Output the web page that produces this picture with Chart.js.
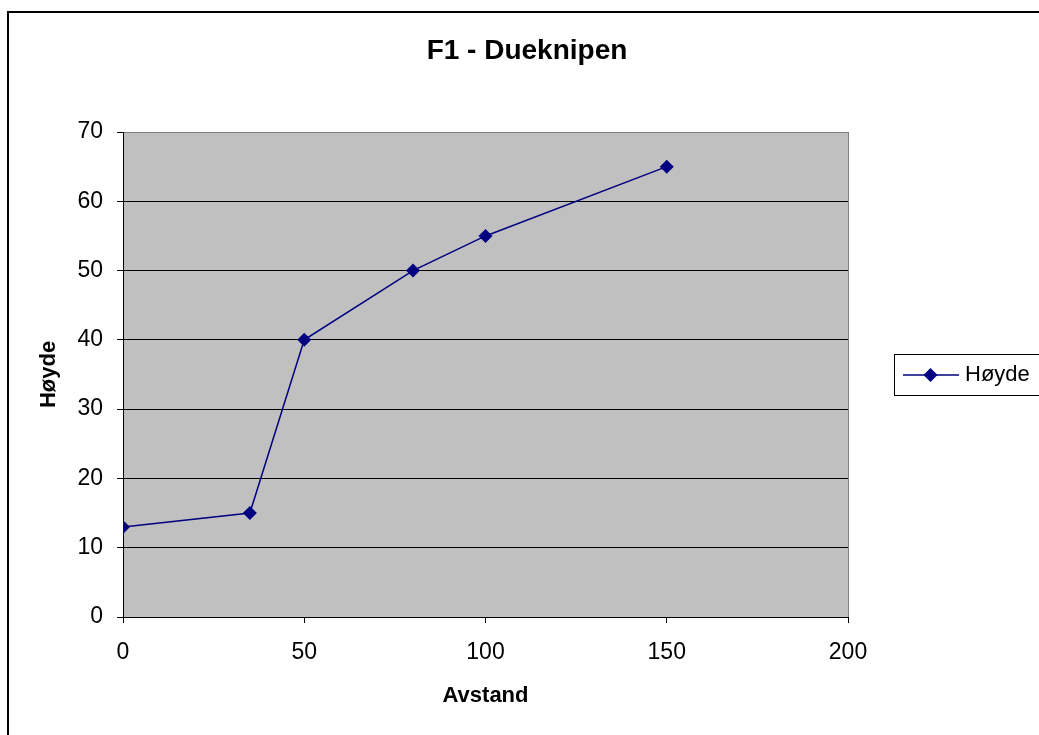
<!DOCTYPE html>
<html><head><meta charset="utf-8">
<script src="https://cdn.jsdelivr.net/npm/chart.js@4/dist/chart.umd.min.js"></script>
<style>html,body{margin:0;padding:0;background:#fff;}#wrap{width:1039px;height:735px;position:relative;}</style>
</head><body><div id="wrap"><canvas id="c" width="1039" height="735"></canvas></div>
<script>
const chartTitle = "F1 - Dueknipen";
const seriesName = "Høyde";
const xTitle = "Avstand";
const yTitle = "Høyde";
const avstand = [0, 35, 50, 80, 100, 150];
const hoyde = [13, 15, 40, 50, 55, 65];
const xTicks = [0, 50, 100, 150, 200];
const yTicks = [0, 10, 20, 30, 40, 50, 60, 70];

const FONT = "'Liberation Sans', Arial, sans-serif";
const NAVY = '#000080';

const decor = {
  id: 'decor',
  beforeDraw(chart) {
    const ctx = chart.ctx, a = chart.chartArea;
    ctx.save();
    ctx.fillStyle = '#fff';
    ctx.fillRect(0, 0, chart.width, chart.height);
    ctx.strokeStyle = '#000';
    ctx.lineWidth = 2;
    ctx.strokeRect(8, 12, 1100, 800);
    ctx.fillStyle = '#C0C0C0';
    ctx.fillRect(a.left, a.top, a.right - a.left, a.bottom - a.top);
    ctx.fillStyle = '#000';
    ctx.font = 'bold 28px ' + FONT;
    ctx.textAlign = 'center';
    ctx.textBaseline = 'alphabetic';
    ctx.fillText(chartTitle, 527, 59);
    ctx.restore();
  },
  afterDraw(chart) {
    const ctx = chart.ctx;
    ctx.save();
    ctx.strokeStyle = '#000';
    ctx.lineWidth = 1;
    ctx.strokeRect(894.5, 354.5, 160, 41);
    ctx.strokeStyle = NAVY;
    ctx.lineWidth = 1.5;
    ctx.beginPath();
    ctx.moveTo(903, 375);
    ctx.lineTo(959, 375);
    ctx.stroke();
    ctx.fillStyle = NAVY;
    ctx.beginPath();
    ctx.moveTo(930.5, 368);
    ctx.lineTo(937.5, 375);
    ctx.lineTo(930.5, 382);
    ctx.lineTo(923.5, 375);
    ctx.closePath();
    ctx.fill();
    ctx.fillStyle = '#000';
    ctx.font = '22px ' + FONT;
    ctx.textAlign = 'left';
    ctx.textBaseline = 'middle';
    ctx.fillText(seriesName, 965, 375);
    ctx.restore();
  }
};

new Chart(document.getElementById('c'), {
  type: 'scatter',
  data: {
    datasets: [{
      label: seriesName,
      data: avstand.map((x, i) => ({x: x, y: hoyde[i]})),
      showLine: true,
      borderColor: NAVY,
      backgroundColor: NAVY,
      borderWidth: 1.5,
      pointStyle: 'rectRot',
      pointRadius: 7,
      pointHoverRadius: 7,
      pointBorderWidth: 0,
      tension: 0
    }]
  },
  options: {
    responsive: false,
    animation: false,
    events: [],
    layout: { padding: { left: 0, top: 132, right: 191, bottom: 0 } },
    plugins: { legend: { display: false }, title: { display: false }, tooltip: { enabled: false } },
    scales: {
      x: {
        type: 'linear', min: 0, max: 200,
        afterBuildTicks(s) { s.ticks = xTicks.map(v => ({value: v})); },
        afterFit(s) { s.height = 118; },
        ticks: { color: '#000', font: { family: FONT, size: 23 }, padding: 16, maxRotation: 0 },
        grid: {
          drawTicks: true, tickLength: 6,
          color: c => c.tick && c.tick.value === 200 ? '#808080' : 'rgba(0,0,0,0)',
          tickColor: '#000', lineWidth: 1
        },
        border: { display: true, color: '#000', width: 1 },
        title: { display: true, text: xTitle, color: '#000', font: { family: FONT, size: 22, weight: 'bold' }, padding: { top: 0, bottom: 26 } }
      },
      y: {
        type: 'linear', min: 0, max: 70,
        afterBuildTicks(s) { s.ticks = yTicks.map(v => ({value: v})); },
        afterFit(s) { s.width = 123; },
        ticks: { color: '#000', font: { family: FONT, size: 23 }, padding: 14 },
        grid: {
          drawTicks: true, tickLength: 6,
          color: c => c.tick && c.tick.value === 70 ? '#808080' : '#000',
          tickColor: '#000', lineWidth: 1
        },
        border: { display: true, color: '#000', width: 1 },
        title: { display: true, text: yTitle, color: '#000', font: { family: FONT, size: 22, weight: 'bold' }, padding: { top: 36, bottom: 0 } }
      }
    }
  },
  plugins: [decor]
});
</script>
</body></html>
